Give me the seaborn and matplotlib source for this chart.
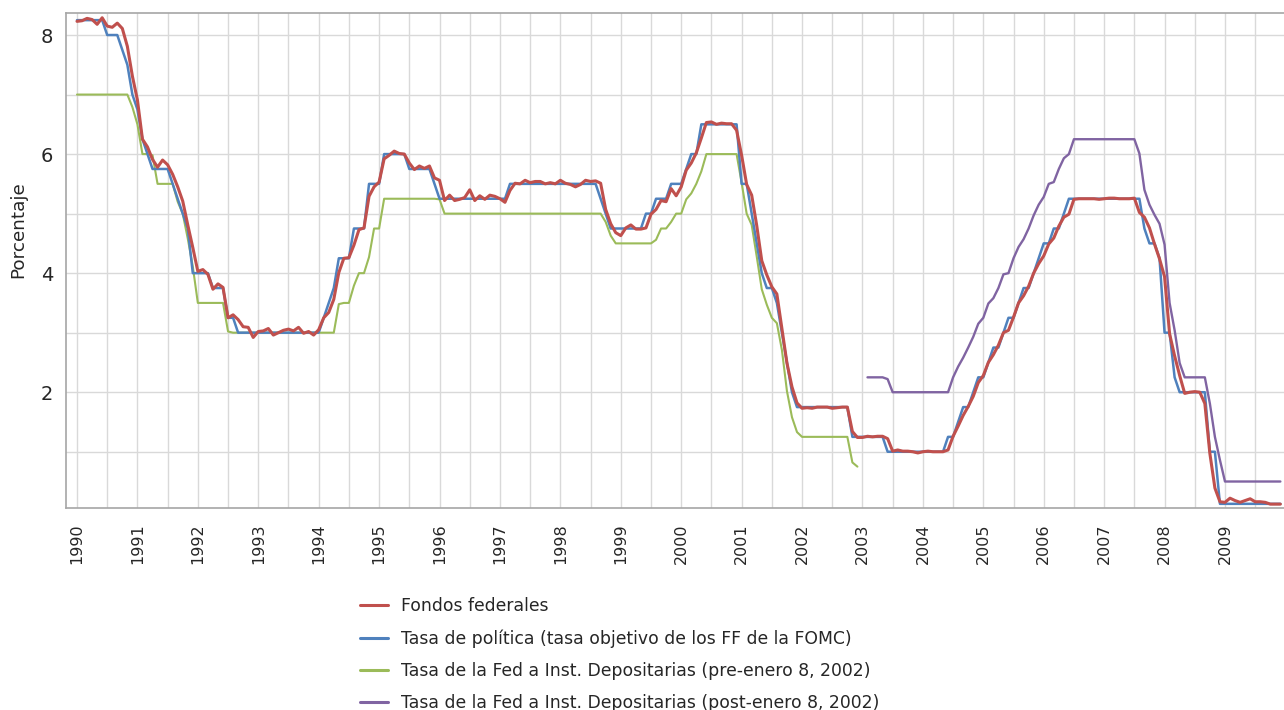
import numpy as np
import pandas as pd
import matplotlib
matplotlib.use("Agg")
import matplotlib.pyplot as plt
import seaborn as sns
from matplotlib.ticker import FixedLocator, NullFormatter, FixedFormatter
from matplotlib.lines import Line2D

# ---------------- data (monthly, Jan 1990 - Dec 2009) ----------------
years = list(range(1990, 2010))

fed_funds = [
    8.23, 8.24, 8.28, 8.26, 8.18, 8.29, 8.15, 8.13, 8.20, 8.11, 7.81, 7.31,
    6.91, 6.25, 6.12, 5.91, 5.78, 5.90, 5.82, 5.66, 5.45, 5.21, 4.81, 4.43,
    4.03, 4.06, 3.98, 3.73, 3.82, 3.76, 3.25, 3.30, 3.22, 3.10, 3.09, 2.92,
    3.02, 3.03, 3.07, 2.96, 3.00, 3.04, 3.06, 3.03, 3.09, 2.99, 3.02, 2.96,
    3.05, 3.25, 3.34, 3.56, 4.01, 4.25, 4.26, 4.47, 4.73, 4.76, 5.29, 5.45,
    5.53, 5.92, 5.98, 6.05, 6.01, 6.00, 5.85, 5.74, 5.80, 5.76, 5.80, 5.60,
    5.56, 5.22, 5.31, 5.22, 5.24, 5.27, 5.40, 5.22, 5.30, 5.24, 5.31, 5.29,
    5.25, 5.19, 5.39, 5.51, 5.50, 5.56, 5.52, 5.54, 5.54, 5.50, 5.52, 5.50,
    5.56, 5.51, 5.49, 5.45, 5.49, 5.56, 5.54, 5.55, 5.51, 5.07, 4.83, 4.68,
    4.63, 4.76, 4.81, 4.74, 4.74, 4.76, 4.99, 5.07, 5.22, 5.20, 5.42, 5.30,
    5.45, 5.73, 5.85, 6.02, 6.27, 6.53, 6.54, 6.50, 6.52, 6.51, 6.51, 6.40,
    5.98, 5.49, 5.31, 4.80, 4.21, 3.97, 3.77, 3.65, 3.07, 2.49, 2.09, 1.82,
    1.73, 1.74, 1.73, 1.75, 1.75, 1.75, 1.73, 1.74, 1.75, 1.75, 1.34, 1.24,
    1.24, 1.26, 1.25, 1.26, 1.26, 1.22, 1.01, 1.03, 1.01, 1.01, 1.00, 0.98,
    1.00, 1.01, 1.00, 1.00, 1.00, 1.03, 1.26, 1.43, 1.61, 1.76, 1.93, 2.16,
    2.28, 2.50, 2.63, 2.79, 3.00, 3.04, 3.26, 3.50, 3.62, 3.78, 4.00, 4.16,
    4.29, 4.49, 4.59, 4.79, 4.94, 4.99, 5.24, 5.25, 5.25, 5.25, 5.25, 5.24,
    5.25, 5.26, 5.26, 5.25, 5.25, 5.25, 5.26, 5.02, 4.94, 4.76, 4.49, 4.24,
    3.94, 2.98, 2.61, 2.28, 1.98, 2.00, 2.01, 2.00, 1.81, 0.97, 0.39, 0.16,
    0.15, 0.22, 0.18, 0.15, 0.18, 0.21, 0.16, 0.16, 0.15, 0.12, 0.12, 0.12,
]

policy_target = [
    8.25, 8.25, 8.25, 8.25, 8.25, 8.25, 8.00, 8.00, 8.00, 7.75, 7.50, 7.00,
    6.75, 6.25, 6.00, 5.75, 5.75, 5.75, 5.75, 5.50, 5.25, 5.00, 4.75, 4.00,
    4.00, 4.00, 4.00, 3.75, 3.75, 3.75, 3.25, 3.25, 3.00, 3.00, 3.00, 3.00,
    3.00, 3.00, 3.00, 3.00, 3.00, 3.00, 3.00, 3.00, 3.00, 3.00, 3.00, 3.00,
    3.00, 3.25, 3.50, 3.75, 4.25, 4.25, 4.25, 4.75, 4.75, 4.75, 5.50, 5.50,
    5.50, 6.00, 6.00, 6.00, 6.00, 6.00, 5.75, 5.75, 5.75, 5.75, 5.75, 5.50,
    5.25, 5.25, 5.25, 5.25, 5.25, 5.25, 5.25, 5.25, 5.25, 5.25, 5.25, 5.25,
    5.25, 5.25, 5.50, 5.50, 5.50, 5.50, 5.50, 5.50, 5.50, 5.50, 5.50, 5.50,
    5.50, 5.50, 5.50, 5.50, 5.50, 5.50, 5.50, 5.50, 5.25, 5.00, 4.75, 4.75,
    4.75, 4.75, 4.75, 4.75, 4.75, 5.00, 5.00, 5.25, 5.25, 5.25, 5.50, 5.50,
    5.50, 5.75, 6.00, 6.00, 6.50, 6.50, 6.50, 6.50, 6.50, 6.50, 6.50, 6.50,
    5.50, 5.50, 5.00, 4.50, 4.00, 3.75, 3.75, 3.50, 3.00, 2.50, 2.00, 1.75,
    1.75, 1.75, 1.75, 1.75, 1.75, 1.75, 1.75, 1.75, 1.75, 1.75, 1.25, 1.25,
    1.25, 1.25, 1.25, 1.25, 1.25, 1.00, 1.00, 1.00, 1.00, 1.00, 1.00, 1.00,
    1.00, 1.00, 1.00, 1.00, 1.00, 1.25, 1.25, 1.50, 1.75, 1.75, 2.00, 2.25,
    2.25, 2.50, 2.75, 2.75, 3.00, 3.25, 3.25, 3.50, 3.75, 3.75, 4.00, 4.25,
    4.50, 4.50, 4.75, 4.75, 5.00, 5.25, 5.25, 5.25, 5.25, 5.25, 5.25, 5.25,
    5.25, 5.25, 5.25, 5.25, 5.25, 5.25, 5.25, 5.25, 4.75, 4.50, 4.50, 4.25,
    3.00, 3.00, 2.25, 2.00, 2.00, 2.00, 2.00, 2.00, 2.00, 1.00, 1.00, 0.125,
    0.125, 0.125, 0.125, 0.125, 0.125, 0.125, 0.125, 0.125, 0.125, 0.125, 0.125, 0.125,
]

# Jan 1990 - Dec 2002
discount_pre = [
    7.00, 7.00, 7.00, 7.00, 7.00, 7.00, 7.00, 7.00, 7.00, 7.00, 7.00, 6.79,
    6.50, 6.00, 6.00, 5.98, 5.50, 5.50, 5.50, 5.50, 5.20, 5.00, 4.58, 4.11,
    3.50, 3.50, 3.50, 3.50, 3.50, 3.50, 3.02, 3.00, 3.00, 3.00, 3.00, 3.00,
    3.00, 3.00, 3.00, 3.00, 3.00, 3.00, 3.00, 3.00, 3.00, 3.00, 3.00, 3.00,
    3.00, 3.00, 3.00, 3.00, 3.48, 3.50, 3.50, 3.79, 4.00, 4.00, 4.27, 4.75,
    4.75, 5.25, 5.25, 5.25, 5.25, 5.25, 5.25, 5.25, 5.25, 5.25, 5.25, 5.25,
    5.24, 5.00, 5.00, 5.00, 5.00, 5.00, 5.00, 5.00, 5.00, 5.00, 5.00, 5.00,
    5.00, 5.00, 5.00, 5.00, 5.00, 5.00, 5.00, 5.00, 5.00, 5.00, 5.00, 5.00,
    5.00, 5.00, 5.00, 5.00, 5.00, 5.00, 5.00, 5.00, 5.00, 4.86, 4.63, 4.50,
    4.50, 4.50, 4.50, 4.50, 4.50, 4.50, 4.50, 4.56, 4.75, 4.75, 4.86, 5.00,
    5.00, 5.24, 5.34, 5.50, 5.71, 6.00, 6.00, 6.00, 6.00, 6.00, 6.00, 6.00,
    5.52, 5.00, 4.81, 4.28, 3.73, 3.47, 3.25, 3.16, 2.71, 2.02, 1.58, 1.33,
    1.25, 1.25, 1.25, 1.25, 1.25, 1.25, 1.25, 1.25, 1.25, 1.25, 0.82, 0.75,
]

# Feb 2003 - Dec 2009
discount_post = [
    2.25, 2.25, 2.25, 2.25, 2.22, 2.00, 2.00, 2.00, 2.00, 2.00, 2.00,
    2.00, 2.00, 2.00, 2.00, 2.00, 2.00, 2.25, 2.43, 2.58, 2.75, 2.93, 3.15,
    3.25, 3.49, 3.58, 3.75, 3.98, 4.00, 4.25, 4.44, 4.57, 4.75, 4.97, 5.15,
    5.28, 5.50, 5.53, 5.75, 5.93, 6.00, 6.25, 6.25, 6.25, 6.25, 6.25, 6.25,
    6.25, 6.25, 6.25, 6.25, 6.25, 6.25, 6.25, 6.01, 5.40, 5.15, 4.98, 4.83,
    4.48, 3.50, 3.04, 2.49, 2.25, 2.25, 2.25, 2.25, 2.25, 1.81, 1.25, 0.86,
    0.50, 0.50, 0.50, 0.50, 0.50, 0.50, 0.50, 0.50, 0.50, 0.50, 0.50, 0.50,
]

series_labels = [
    "Fondos federales",
    "Tasa de política (tasa objetivo de los FF de la FOMC)",
    "Tasa de la Fed a Inst. Depositarias (pre-enero 8, 2002)",
    "Tasa de la Fed a Inst. Depositarias (post-enero 8, 2002)",
]
series_colors = ["#c0504d", "#4f81bd", "#9bbb59", "#8064a2"]
series_widths = [2.2, 1.8, 1.5, 1.7]

# ---------------- build frames ----------------
t_all = 1990 + np.arange(len(fed_funds)) / 12.0
t_pre = t_all[:len(discount_pre)]
t_post = t_all[len(t_all) - len(discount_post):]

frames = [
    pd.DataFrame({"t": t_all, "v": fed_funds}),
    pd.DataFrame({"t": t_all, "v": policy_target}),
    pd.DataFrame({"t": t_pre, "v": discount_pre}),
    pd.DataFrame({"t": t_post, "v": discount_post}),
]

# ---------------- figure ----------------
sns.set_theme(style="whitegrid")
plt.rcParams["font.family"] = ["DejaVu Sans"]

W, H = 1284, 710
fig = plt.figure(figsize=(W / 100, H / 100), dpi=100)
ax_l, ax_r, ax_t, ax_b = 66, 1300, 13.3, 508.3
ax = fig.add_axes([ax_l / W, (H - ax_b) / H, (ax_r - ax_l) / W, (ax_b - ax_t) / H])

draw_order = [2, 3, 1, 0]
for i in draw_order:
    sns.lineplot(data=frames[i], x="t", y="v", ax=ax, color=series_colors[i],
                 linewidth=series_widths[i], estimator=None, sort=False,
                 legend=False, zorder=3 + (3 - i))

px_per_year = 60.42
x0 = 1990 - (77 - ax_l) / px_per_year
x1 = 1990 + (ax_r - 77) / px_per_year
ax.set_xlim(x0, x1)
ax.set_ylim(0.05, 8.365)

ax.xaxis.set_major_locator(FixedLocator(years))
ax.xaxis.set_major_formatter(FixedFormatter([str(y) for y in years]))
ax.xaxis.set_minor_locator(FixedLocator([y + 0.5 for y in years] + [2010]))
ax.yaxis.set_major_locator(FixedLocator([2, 4, 6, 8]))
ax.yaxis.set_minor_locator(FixedLocator([1, 3, 5, 7]))
ax.yaxis.set_minor_formatter(NullFormatter())
ax.xaxis.set_minor_formatter(NullFormatter())

ax.grid(True, which="both", color="#d9d9d9", linewidth=1.0)
ax.set_axisbelow(True)
ax.tick_params(axis="both", which="both", length=0)
ax.tick_params(axis="x", labelsize=11.5, pad=11, labelrotation=90, colors="#262626")
ax.tick_params(axis="y", labelsize=14, pad=9, colors="#262626")

ax.set_xlabel("")
ax.set_ylabel("Porcentaje", fontsize=13.2, color="#262626")
ax.yaxis.set_label_coords(-0.0315, 0.563)

for s in ["left", "top", "bottom"]:
    ax.spines[s].set_color("#a6a6a6")
    ax.spines[s].set_linewidth(1.2)
ax.spines["right"].set_visible(False)

handles = [Line2D([0], [0], color=series_colors[i], linewidth=2.2) for i in range(4)]
fig.legend(handles, series_labels, loc="upper left",
           bbox_to_anchor=(360 / W, 1 - 597 / H), frameon=False,
           fontsize=12.4, handlelength=1.6, handletextpad=0.78,
           labelspacing=0.82, borderpad=0, borderaxespad=0,
           labelcolor="#262626")

fig.savefig("out.png", dpi=100)
